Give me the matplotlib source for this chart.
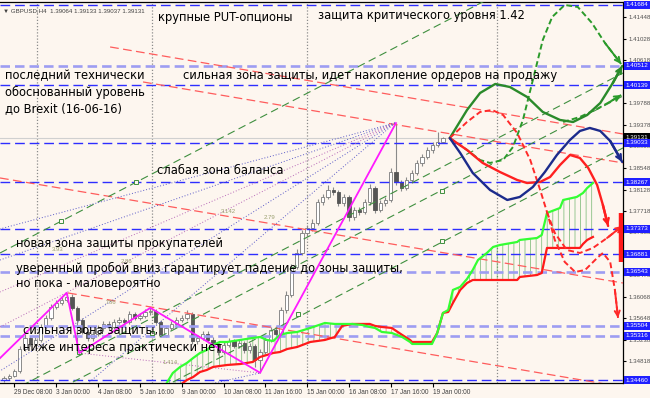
import matplotlib
matplotlib.use("Agg")
import matplotlib.pyplot as plt
import matplotlib.transforms as mtransforms
import numpy as np

# GBPUSD H4 candles, bar 0 .. 84 (last bar = current)
first_open = 1.3446
closes = [1.3450, 1.3454, 1.3464, 1.3506, 1.3527, 1.3516, 1.3523, 1.3548, 1.3566, 1.3587,
          1.3594, 1.3600, 1.3606, 1.3585, 1.3562, 1.3539, 1.3527, 1.3535, 1.3546, 1.3554,
          1.3548, 1.3558, 1.3562, 1.3558, 1.3573, 1.3566, 1.3569, 1.3577, 1.3579, 1.3558,
          1.3533, 1.3546, 1.3554, 1.3562, 1.3566, 1.3573, 1.3521, 1.3527, 1.3535, 1.3523,
          1.3516, 1.3500, 1.3514, 1.3521, 1.3512, 1.3517, 1.3504, 1.3512, 1.3485, 1.3500,
          1.3523, 1.3542, 1.3535, 1.3581, 1.3610, 1.3664, 1.3691, 1.3729, 1.3739, 1.3749,
          1.3789, 1.3799, 1.3812, 1.3808, 1.3787, 1.3799, 1.3760, 1.3774, 1.3770, 1.3789,
          1.3816, 1.3774, 1.3787, 1.3793, 1.3847, 1.3827, 1.3816, 1.3831, 1.3845, 1.3864,
          1.3876, 1.3889, 1.3899, 1.3905, 1.3913]
highs = [1.3454, 1.3458, 1.3468, 1.3511, 1.3534, 1.3531, 1.3528, 1.3553, 1.3571, 1.3592,
         1.3600, 1.3606, 1.3614, 1.3612, 1.3589, 1.3566, 1.3544, 1.3540, 1.3552, 1.3560,
         1.3559, 1.3563, 1.3568, 1.3566, 1.3579, 1.3577, 1.3575, 1.3582, 1.3585, 1.3583,
         1.3561, 1.3551, 1.3559, 1.3567, 1.3572, 1.3580, 1.3577, 1.3533, 1.3541, 1.3540,
         1.3528, 1.3520, 1.3519, 1.3527, 1.3526, 1.3523, 1.3521, 1.3518, 1.3516, 1.3506,
         1.3529, 1.3548, 1.3550, 1.3587, 1.3617, 1.3670, 1.3698, 1.3735, 1.3745, 1.3756,
         1.3795, 1.3805, 1.3821, 1.3817, 1.3812, 1.3805, 1.3803, 1.3779, 1.3780, 1.3795,
         1.3823, 1.3820, 1.3793, 1.3799, 1.3855, 1.3941, 1.3832, 1.3837, 1.3851, 1.3870,
         1.3882, 1.3895, 1.3905, 1.3924, 1.3915]
lows = [1.3443, 1.3446, 1.3451, 1.3460, 1.3502, 1.3511, 1.3512, 1.3519, 1.3544, 1.3562,
        1.3583, 1.3590, 1.3596, 1.3581, 1.3498, 1.3534, 1.3521, 1.3522, 1.3530, 1.3541,
        1.3543, 1.3544, 1.3553, 1.3553, 1.3554, 1.3561, 1.3561, 1.3565, 1.3572, 1.3553,
        1.3528, 1.3529, 1.3542, 1.3550, 1.3558, 1.3561, 1.3516, 1.3516, 1.3523, 1.3518,
        1.3511, 1.3494, 1.3496, 1.3509, 1.3507, 1.3508, 1.3498, 1.3499, 1.3472, 1.3460,
        1.3496, 1.3519, 1.3530, 1.3531, 1.3576, 1.3605, 1.3659, 1.3686, 1.3724, 1.3733,
        1.3744, 1.3783, 1.3794, 1.3802, 1.3782, 1.3781, 1.3752, 1.3755, 1.3763, 1.3765,
        1.3784, 1.3768, 1.3769, 1.3781, 1.3788, 1.3822, 1.3810, 1.3812, 1.3826, 1.3840,
        1.3859, 1.3871, 1.3884, 1.3895, 1.3903]
opens = [first_open] + closes[:-1]

date_bars = [2, 10, 18, 26, 34, 42, 50, 58, 66, 74, 82]
date_labels = ["29 Dec 08:00", "3 Jan 00:00", "4 Jan 08:00", "5 Jan 16:00", "9 Jan 00:00",
               "10 Jan 08:00", "11 Jan 16:00", "15 Jan 00:00", "16 Jan 08:00",
               "17 Jan 16:00", "19 Jan 00:00"]
separator_bars = [6.3, 28.3, 58.0, 94.3]

price_ticks = [1.41448, 1.41028, 1.40618, 1.39788, 1.39378, 1.38958, 1.38548, 1.38128,
               1.37718, 1.37308, 1.36478, 1.36068, 1.35648, 1.35238, 1.34818]
blue_levels = [1.41684, 1.40139, 1.39033, 1.38267, 1.37373, 1.36881, 1.34460]
soft_levels = [1.40512, 1.36543, 1.35504, 1.35316]
current_price = 1.39131

# Ichimoku cloud (shifted forward)
kumo_bars = [30.8, 32.3, 33.7, 35.0, 36.2, 37.5, 38.8, 40.0, 41.3, 42.7,
             45.2, 47.6, 49.0, 50.3, 51.5, 52.8, 54.2, 56.1, 58.6, 61.4,
             63.3, 64.7, 66.6, 68.5, 70.0, 71.0, 72.3, 74.2, 76.2, 77.7,
             78.1, 81.9, 82.9, 84.0, 85.0, 85.9, 87.3, 88.6, 89.7, 90.7,
             92.4, 93.6, 94.9, 98.2, 98.7, 102.0, 102.9, 103.9, 106.4, 107.0,
             109.6, 110.2, 110.8, 111.6, 112.7]
span_a = [1.34346, 1.34596, 1.34712, 1.34789, 1.34885, 1.34981, 1.35039, 1.35135, 1.35193, 1.35193,
          1.35232, 1.35270, 1.35289, 1.35232, 1.35212, 1.35328, 1.35366, 1.35386, 1.35463, 1.35559,
          1.35540, 1.35540, 1.35540, 1.35521, 1.35482, 1.35463, 1.35386, 1.35366, 1.35289, 1.35193,
          1.35155, 1.35155, 1.35366, 1.35752, 1.35809, 1.36195, 1.36254, 1.36407, 1.36580, 1.36772,
          1.36907, 1.37023, 1.37061, 1.37119, 1.37158, 1.37196, 1.37254, 1.37678, 1.37774, 1.37928,
          1.37986, 1.38024, 1.38063, 1.38159, 1.38256]
span_b = [1.34172, 1.34269, 1.34365, 1.34461, 1.34519, 1.34615, 1.34654, 1.34712, 1.34731, 1.34750,
          1.34769, 1.34808, 1.34904, 1.34943, 1.34981, 1.35000, 1.35058, 1.35097, 1.35193, 1.35232,
          1.35289, 1.35502, 1.35540, 1.35540, 1.35540, 1.35502, 1.35482, 1.35463, 1.35328, 1.35232,
          1.35193, 1.35193, 1.35366, 1.35752, 1.35771, 1.35944, 1.36195, 1.36329, 1.36387, 1.36387,
          1.36387, 1.36387, 1.36387, 1.36387, 1.36445, 1.36483, 1.36522, 1.37004, 1.37004, 1.37004,
          1.37004, 1.37004, 1.37081, 1.37158, 1.37216]

# zigzag
zz_bars = [-1.6, 12, 14.4, 28, 49, 75]
zz_prices = [1.3480, 1.3614, 1.3498, 1.3585, 1.3460, 1.3941]

# channel lines: (bar0, price0, bar1, price1)
red_lines = [(20.3, 1.40875, 118.45, 1.39199),
             (26.6, 1.40201, 118.45, 1.38641),
             (-0.77, 1.38352, 118.45, 1.36329),
             (12.25, 1.36137, 118.45, 1.34326)]
green_lines = [(-0.77, 1.36907, 118.45, 1.43147),
               (-0.77, 1.34134, 118.45, 1.40374),
               (-0.77, 1.33691, 118.45, 1.39931),
               (-0.77, 1.32689, 118.45, 1.38930)]
green_marks_bar = [10.9, 25.3, 14.35, 28.3, 56.3, 83.8, 83.8]
green_marks_price = [1.37524, 1.38275, 1.35000, 1.35366, 1.35732, 1.38101, 1.37139]

# fan from the 17 Jan high
fan_origin = (74.8, 1.3941)
fan_ends_bar = [-0.77, -0.77, -0.77, -0.77, -0.77, 16.1]
fan_ends_price = [1.37370, 1.36772, 1.36156, 1.35482, 1.34635, 1.34400]
fan_blue = [True, True, False, False, True, True]
low_lines = [(14.35, 1.34981, 49.0, 1.34596, "#b868b8"),
             (37.7, 1.34346, 49.0, 1.34596, "#5a5ac8")]
fib_labels = [(42.9, 1.37697, "3.142"), (50.9, 1.37581, "2.79"), (20.3, 1.35944, ".786"),
              (31.8, 1.34789, "1.414"), (10.3, 1.36965, "3.93"), (23.5, 1.36734, "2.86")]

# scenarios
g_solid_x = [85.3, 88.6, 91.1, 94.0, 96.8, 100.1, 103.1, 106.4, 108.9, 111.6, 114.1, 116.5, 118.3]
g_solid_y = [1.3912, 1.39661, 1.39989, 1.40162, 1.40104, 1.39912, 1.39623, 1.39469, 1.39430,
             1.39565, 1.39796, 1.40181, 1.40509]
g_dash_x = [85.3, 88.6, 91.1, 93.0, 95.5, 97.4, 99.3, 101.2, 103.1, 104.9, 107.3, 109.8, 112.5, 115.0, 118.1]
g_dash_y = [1.3912, 1.38891, 1.38698, 1.38641, 1.38698, 1.38949, 1.39469, 1.40239, 1.41010,
            1.41453, 1.41684, 1.41645, 1.41337, 1.40952, 1.40547]
g_dash2_x = [107.0, 110.2, 113.1, 115.9, 118.1]
g_dash2_y = [1.39430, 1.39527, 1.39661, 1.39816, 1.39950]
r_solid_x = [85.3, 88.6, 91.6, 94.9, 98.2, 100.1, 102.6, 104.5, 106.4, 108.3, 110.2, 111.8, 113.5, 114.6, 115.6]
r_solid_y = [1.3912, 1.38891, 1.38641, 1.38467, 1.38313, 1.38255, 1.38275, 1.38371, 1.38602,
             1.38795, 1.38737, 1.38544, 1.38217, 1.37832, 1.37427]
r_dash_x = [85.3, 88.6, 91.1, 93.4, 95.5, 98.2, 100.7, 102.6, 103.9, 105.4, 107.3, 109.3, 111.2,
            113.5, 114.6, 116.0, 116.9, 117.5]
r_dash_y = [1.3912, 1.39430, 1.39623, 1.39661, 1.39565, 1.39218, 1.38698, 1.38121, 1.37697,
            1.37158, 1.36734, 1.36541, 1.36580, 1.36811, 1.36907, 1.36734, 1.36195, 1.35656]
r_dash2_x = [103.9, 105.4, 107.7, 110.2, 112.7, 115.4, 118.3]
r_dash2_y = [1.37697, 1.37292, 1.36965, 1.36907, 1.37004, 1.37196, 1.37427]
navy_x = [85.3, 87.3, 89.7, 93.0, 96.3, 98.7, 101.2, 103.5, 105.8, 108.3, 110.2, 112.1, 114.1, 116.0, 118.3]
navy_y = [1.3912, 1.38833, 1.38448, 1.38121, 1.37928, 1.37986, 1.38178, 1.38467, 1.38795,
          1.39084, 1.39257, 1.39315, 1.39257, 1.39064, 1.38660]
target_bar = (118.1, 1.36734, 1.37678)

notes = [
    (158, 17, "крупные PUT-опционы"),
    (318, 16, "защита критического уровня 1.42"),
    (5, 76, "последний технически"),
    (5, 92, "обоснованный уровень"),
    (5, 109, "до Brexit (16-06-16)"),
    (183, 75, "сильная зона защиты, идет накопление ордеров на продажу"),
    (157, 171, "слабая зона баланса"),
    (16, 244, "новая зона защиты прокупателей"),
    (16, 268, "уверенный пробой вниз гарантирует падение до зоны защиты,"),
    (16, 284, "но пока - маловероятно"),
    (23, 330, "сильная зона защиты,"),
    (23, 347, "ниже интереса практически нет"),
]

bg = "#fdf6ef"
small = "Liberation Sans"
plt.rcParams["font.family"] = ["DejaVu Sans"]
plt.rcParams["hatch.linewidth"] = 0.6
fig = plt.figure(figsize=(6.5, 3.98), dpi=100, facecolor=bg)
ax = fig.add_axes([0, 15 / 398, 623 / 650, 381 / 398], facecolor=bg)
ax.set_xlim(-0.77, 118.45)
ax.set_ylim(1.34403, 1.41741)

# candles
xb = np.arange(len(closes))
o = np.array(opens)
c = np.array(closes)
up = c >= o
ax.vlines(xb, lows, highs, color="#8a8a8a", lw=0.8, zorder=2)
ax.bar(xb[up], (c - o)[up], bottom=o[up], width=0.62, color="white", edgecolor="#7a7a7a", lw=0.6, zorder=2.5)
ax.bar(xb[~up], (o - c)[~up], bottom=c[~up], width=0.62, color="#555555", edgecolor="#555555", lw=0.6, zorder=2.5)

# separators and bid line
for sb in separator_bars:
    ax.axvline(sb, color="#8c8c8c", lw=0.9, ls=(0, (1, 1.5)), zorder=1)
ax.axhline(current_price, color="#d0d0d0", lw=0.8, zorder=1)

# ichimoku
ka = np.array(span_a)
kb = np.array(span_b)
ax.fill_between(kumo_bars, ka, kb, where=ka >= kb, interpolate=True, facecolor="none",
                edgecolor="#3c9c3c", hatch="|||", lw=0, alpha=0.6, zorder=2)
ax.fill_between(kumo_bars, ka, kb, where=ka < kb, interpolate=True, facecolor="none",
                edgecolor="#ff3030", hatch="|||", lw=0, alpha=0.6, zorder=2)
ax.plot(kumo_bars, span_b, color="#ff1a1a", lw=1.6, zorder=4)
ax.plot(kumo_bars, span_a, color="#33ff33", lw=1.6, zorder=4)

# horizontal levels
for lv in blue_levels:
    ax.axhline(lv, color="#2e2eff", lw=1.0, ls=(0, (7, 3.5)), zorder=3)
for lv in soft_levels:
    ax.axhline(lv, color="#9d9df2", lw=1.9, ls=(0, (3.6, 1.9)), zorder=3)

# channels
for b0, p0, b1, p1 in red_lines:
    ax.plot([b0, b1], [p0, p1], color="#ff5c5c", lw=0.9, ls=(0, (7, 3.5)), zorder=3)
for b0, p0, b1, p1 in green_lines:
    ax.plot([b0, b1], [p0, p1], color="#3f8f3f", lw=0.8, ls=(0, (7, 4)), zorder=3)
ax.plot(green_marks_bar, green_marks_price, ls="none", marker="s", ms=2.6, mfc=bg, mec="#3f8f3f", mew=0.7, zorder=4)

# fan
for eb, ep, blue in zip(fan_ends_bar, fan_ends_price, fan_blue):
    ax.plot([fan_origin[0], eb], [fan_origin[1], ep], color="#5a5ac8" if blue else "#b868b8",
            lw=0.7, ls=(0, (1, 2)), zorder=3)
for b0, p0, b1, p1, col in low_lines:
    ax.plot([b0, b1], [p0, p1], color=col, lw=0.7, ls=(0, (1, 2)), zorder=3)
for fb, fp, txt in fib_labels:
    ax.text(fb, fp, txt, fontsize=4.3, family=small, color="#9aa070", ha="center", va="center", zorder=3)

# zigzag
ax.plot(zz_bars, zz_prices, color="#ff1aff", lw=1.3, zorder=5)


def scenario(xs, ys, color, dashed, arrow=True):
    ls = (0, (3, 1.6)) if dashed else "-"
    lw = 1.4 if dashed else 1.7
    ax.plot(xs, ys, color=color, lw=lw, ls=ls, zorder=6, solid_capstyle="round")
    if arrow:
        ax.annotate("", xy=(xs[-1], ys[-1]), xytext=(xs[-2], ys[-2]),
                    arrowprops=dict(arrowstyle="->", color=color, lw=lw, mutation_scale=9,
                                    shrinkA=0, shrinkB=0), zorder=6)


scenario(g_dash_x, g_dash_y, "#2a9a2a", True)
scenario(g_dash2_x, g_dash2_y, "#2a9a2a", True)
scenario(g_solid_x, g_solid_y, "#2a8a2a", False)
scenario(r_dash_x, r_dash_y, "#ff2a2a", True)
scenario(r_dash2_x, r_dash2_y, "#ff2a2a", True)
scenario(r_solid_x, r_solid_y, "#ff2020", False)
scenario(navy_x, navy_y, "#1c2b8c", False)
ax.vlines(target_bar[0], target_bar[1], target_bar[2], color="#ff1a1a", lw=3.2, zorder=6)

# notes
for px, py, txt in notes:
    fig.text(px / 650, 1 - py / 398, txt, fontsize=8.3, color="black", ha="left", va="center", zorder=10)
fig.text(3 / 650, 1 - 11 / 398, "\u25bc GBPUSD,H4  1.39064 1.39133 1.39037 1.39131",
         fontsize=4.4, color="#404040", ha="left", va="center", family=[small, "DejaVu Sans"])

# axes styling
ax.spines["left"].set_visible(False)
for side in ["right", "bottom", "top"]:
    ax.spines[side].set_color("black")
    ax.spines[side].set_linewidth(0.9)
ax.yaxis.tick_right()
ax.set_yticks(price_ticks)
ax.set_yticklabels([f"{t:.5f}" for t in price_ticks], family=small)
ax.tick_params(axis="y", labelsize=4.4, labelcolor="#505050", length=2.5, pad=1.5, color="black")
ax.set_xticks(date_bars)
ax.set_xticklabels(date_labels, ha="left", family=small)
ax.tick_params(axis="x", labelsize=4.7, labelcolor="#404040", length=3, pad=1.5, color="black")

tr = mtransforms.blended_transform_factory(ax.transAxes, ax.transData)
ax.text(1.004, current_price, f"{current_price:.5f}", transform=tr, fontsize=4.5, family=small,
        color="white", va="center", ha="left", clip_on=False, zorder=11,
        bbox=dict(boxstyle="square,pad=0.25", fc="black", ec="none"))
for lv in sorted(blue_levels + soft_levels):
    ax.text(1.004, lv, f"{lv:.5f}", transform=tr, fontsize=4.5, family=small, color="white",
            va="center", ha="left", clip_on=False, zorder=12,
            bbox=dict(boxstyle="square,pad=0.25", fc="#1f1fff", ec="none"))

fig.savefig("out.png", dpi=100, facecolor=bg)
